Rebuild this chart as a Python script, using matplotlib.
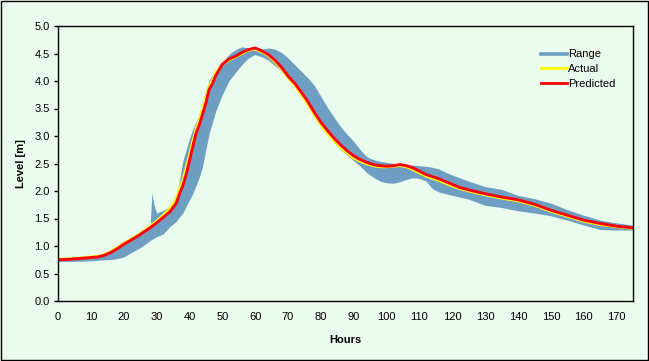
import matplotlib
matplotlib.use("Agg")
import matplotlib.pyplot as plt
from matplotlib.lines import Line2D
from matplotlib.patches import Rectangle

plt.rcParams['font.family'] = ['Liberation Sans', 'DejaVu Sans']

# band (min / max of ensemble)
band_hours = [0, 5, 10, 14, 15, 17, 20, 22, 25, 27, 28, 28.6, 29.2, 30, 32, 34, 36, 37, 38, 40,
              41, 43, 44, 46, 48, 50, 52, 53, 55, 56, 58, 60, 62, 64, 66, 68, 70, 72, 74, 76,
              78, 80, 82, 84, 86, 88, 90, 92, 94, 96, 98, 100, 102, 104, 106, 108, 110, 112,
              114, 116, 118, 120, 125, 130, 135, 140, 145, 150, 155, 160, 165, 170, 175]
band_upper = [0.76, 0.80, 0.83, 0.84, 0.88, 0.95, 1.05, 1.15, 1.25, 1.30, 1.35, 1.97, 1.75, 1.60,
              1.65, 1.72, 1.95, 2.20, 2.55, 2.95, 3.12, 3.40, 3.62, 4.02, 4.20, 4.33, 4.48, 4.53,
              4.60, 4.62, 4.60, 4.58, 4.58, 4.60, 4.58, 4.52, 4.42, 4.30, 4.18, 4.06, 3.92, 3.72,
              3.52, 3.34, 3.17, 3.03, 2.90, 2.75, 2.62, 2.57, 2.54, 2.52, 2.50, 2.50, 2.48, 2.47,
              2.46, 2.45, 2.43, 2.40, 2.34, 2.29, 2.18, 2.08, 2.03, 1.92, 1.86, 1.78, 1.66, 1.56,
              1.47, 1.42, 1.38]
band_lower = [0.72, 0.72, 0.73, 0.75, 0.75, 0.76, 0.80, 0.87, 0.97, 1.05, 1.10, 1.12, 1.14, 1.17,
              1.22, 1.35, 1.45, 1.53, 1.60, 1.84, 1.95, 2.25, 2.45, 3.05, 3.45, 3.75, 4.00, 4.08,
              4.23, 4.30, 4.42, 4.48, 4.44, 4.38, 4.28, 4.18, 4.05, 3.95, 3.80, 3.63, 3.44, 3.25,
              3.05, 2.88, 2.75, 2.65, 2.55, 2.45, 2.33, 2.25, 2.18, 2.15, 2.14, 2.17, 2.21, 2.24,
              2.23, 2.18, 2.04, 1.98, 1.95, 1.92, 1.85, 1.74, 1.70, 1.64, 1.60, 1.55, 1.47, 1.38,
              1.30, 1.29, 1.29]

hours = [0, 4, 8, 12, 14, 16, 18, 20, 22, 24, 26, 28, 30, 32, 34, 36, 37, 38, 39, 40, 41, 42,
         43, 44, 45, 46, 47, 48, 50, 52, 54, 56, 58, 60, 62, 64, 66, 68, 70, 72, 74, 76, 78, 80,
         82, 84, 86, 88, 90, 92, 94, 96, 98, 100, 102, 104, 106, 108, 110, 112, 114, 116, 118,
         120, 122, 125, 130, 135, 140, 145, 150, 155, 160, 165, 170, 175]
actual = [0.76, 0.77, 0.79, 0.81, 0.84, 0.90, 0.97, 1.05, 1.12, 1.19, 1.27, 1.36, 1.45, 1.56,
          1.68, 1.86, 2.05, 2.20, 2.42, 2.65, 2.90, 3.12, 3.30, 3.50, 3.70, 3.90, 4.02, 4.15,
          4.30, 4.38, 4.44, 4.50, 4.56, 4.58, 4.53, 4.46, 4.35, 4.22, 4.06, 3.92, 3.76, 3.58,
          3.38, 3.20, 3.05, 2.91, 2.79, 2.69, 2.60, 2.54, 2.49, 2.46, 2.44, 2.44, 2.45, 2.46,
          2.44, 2.39, 2.33, 2.27, 2.23, 2.19, 2.14, 2.09, 2.05, 2.00, 1.93, 1.87, 1.82, 1.74,
          1.63, 1.54, 1.45, 1.39, 1.35, 1.32]
predicted = [0.75, 0.76, 0.78, 0.80, 0.83, 0.88, 0.95, 1.03, 1.10, 1.17, 1.25, 1.33, 1.42, 1.52,
             1.62, 1.78, 1.95, 2.10, 2.30, 2.55, 2.80, 3.05, 3.20, 3.40, 3.60, 3.85, 3.95, 4.10,
             4.30, 4.40, 4.45, 4.52, 4.57, 4.60, 4.55, 4.48, 4.38, 4.25, 4.09, 3.96, 3.80, 3.63,
             3.43, 3.25, 3.10, 2.96, 2.84, 2.73, 2.64, 2.57, 2.52, 2.48, 2.46, 2.45, 2.46, 2.48,
             2.46, 2.42, 2.36, 2.30, 2.26, 2.22, 2.17, 2.12, 2.07, 2.02, 1.95, 1.89, 1.84, 1.76,
             1.65, 1.56, 1.47, 1.41, 1.36, 1.33]

bg = '#EAFCEE'
blue = '#6E9FC2'

fig = plt.figure(figsize=(6.49, 3.61), dpi=100, facecolor=bg)
ax = fig.add_axes([58 / 649, 1 - 301 / 361, 575 / 649, 275 / 361], facecolor=bg)

ax.fill_between(band_hours, band_lower, band_upper, color=blue, lw=0)
ax.plot(hours, actual, color='#FFFF00', lw=2.0)
ax.plot(hours, predicted, color='#FF0000', lw=2.1)

ax.set_xlim(0, 175)
ax.set_ylim(0, 5)
ax.set_xticks(range(0, 171, 10))
ax.set_yticks([i * 0.5 for i in range(11)])
ax.set_yticklabels(['%.1f' % (i * 0.5) for i in range(11)])
ax.tick_params(axis='x', length=0, pad=8, labelsize=8)
ax.tick_params(axis='y', length=3, width=1, pad=3, labelsize=8)
for s in ax.spines.values():
    s.set_linewidth(1)
    s.set_color('black')

ax.set_xlabel('Hours', fontsize=8, fontweight='bold', labelpad=9)
ax.set_ylabel('Level [m]', fontsize=8, fontweight='bold', labelpad=6)

handles = [Line2D([], [], color=blue, lw=2.6),
           Line2D([], [], color='#FFFF00', lw=2),
           Line2D([], [], color='#FF0000', lw=2)]
fig.legend(handles, ['Range', 'Actual', 'Predicted'], loc='upper left',
           bbox_to_anchor=(537 / 649, 1 - 45 / 361), frameon=False, fontsize=8,
           handlelength=2.3, handletextpad=0.1, labelspacing=0.42, borderaxespad=0)

fig.add_artist(Rectangle((0.001, 0.002), 0.997, 0.996, transform=fig.transFigure,
                         fill=False, edgecolor='black', lw=1))

plt.savefig('out.png', dpi=100, facecolor=bg)
